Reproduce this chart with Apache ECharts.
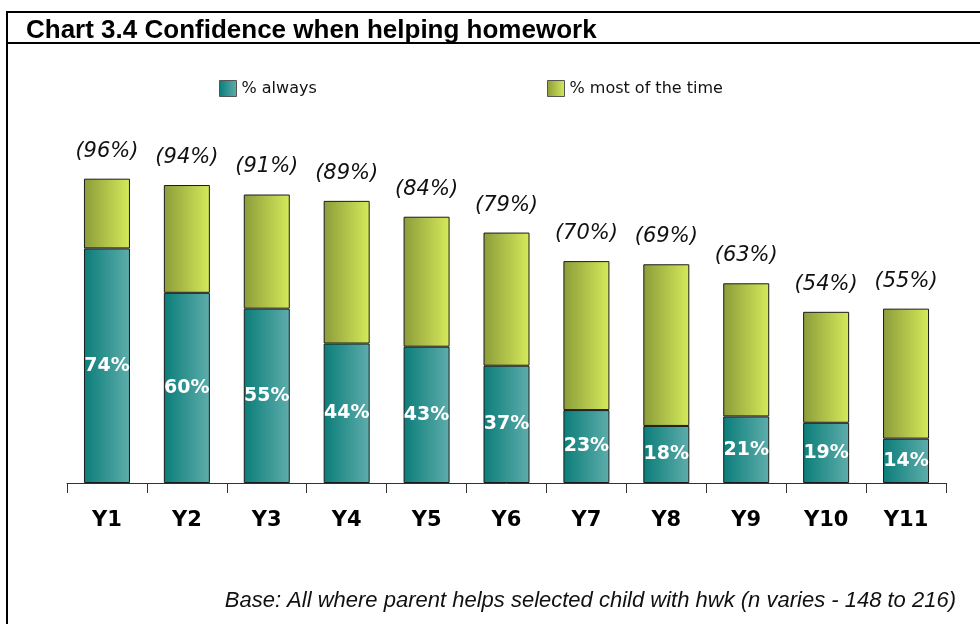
<!DOCTYPE html>
<html>
<head>
<meta charset="utf-8">
<title>Chart 3.4</title>
<script src="https://cdn.jsdelivr.net/npm/echarts@6/dist/echarts.min.js"></script>
<style>
  html, body { margin: 0; padding: 0; background: #fff; }
  #main { width: 980px; height: 624px; }
</style>
</head>
<body>
<div id="main"></div>
<script>
// data
const years = ['Y1', 'Y2', 'Y3', 'Y4', 'Y5', 'Y6', 'Y7', 'Y8', 'Y9', 'Y10', 'Y11'];
const always = [74, 60, 55, 44, 43, 37, 23, 18, 21, 19, 14];
const mostOfTime = [22, 34, 36, 45, 41, 42, 47, 51, 42, 35, 41];
const totals = [96, 94, 91, 89, 84, 79, 70, 69, 63, 54, 55];

const myChart = echarts.init(document.getElementById('main'));

// horizontal gradients like the original bars
const tealGrad = new echarts.graphic.LinearGradient(0, 0, 1, 0, [
  { offset: 0, color: '#0b7d79' },
  { offset: 1, color: '#5eadab' }
]);
const limeGrad = new echarts.graphic.LinearGradient(0, 0, 1, 0, [
  { offset: 0, color: '#8c9c3a' },
  { offset: 1, color: '#d6ea5a' }
]);

const legendText = { fontFamily: 'DejaVu Sans', fontSize: 16, color: '#111' };

const option = {
  backgroundColor: '#fff',
  animation: false,
  title: {
    text: 'Chart 3.4 Confidence when helping homework',
    left: 21,
    top: 13,
    textStyle: {
      fontFamily: 'Liberation Sans',
      fontWeight: 'bold',
      fontSize: 26,
      color: '#000'
    }
  },
  legend: [
    {
      data: ['% always'],
      left: 214,
      top: 75,
      icon: 'rect',
      itemWidth: 17,
      itemHeight: 16,
      itemGap: 5,
      itemStyle: { borderColor: '#555', borderWidth: 1 },
      textStyle: legendText
    },
    {
      data: ['% most of the time'],
      left: 542,
      top: 75,
      icon: 'rect',
      itemWidth: 17,
      itemHeight: 16,
      itemGap: 5,
      itemStyle: { borderColor: '#555', borderWidth: 1 },
      textStyle: legendText
    }
  ],
  grid: {
    left: 67,
    right: 34,
    top: 166,
    bottom: 141
  },
  xAxis: {
    type: 'category',
    data: years,
    axisLine: { show: true, lineStyle: { color: '#333', width: 1 } },
    axisTick: { show: true, length: 10, lineStyle: { color: '#333', width: 1 } },
    axisLabel: {
      margin: 27,
      fontFamily: 'DejaVu Sans',
      fontWeight: 'bold',
      fontSize: 21,
      color: '#000'
    }
  },
  yAxis: {
    type: 'value',
    min: 0,
    max: 100,
    show: false,
    splitLine: { show: false }
  },
  series: [
    {
      name: '% always',
      type: 'bar',
      stack: 'conf',
      barWidth: 46,
      data: always,
      itemStyle: { color: tealGrad, borderColor: '#1a1a1a', borderWidth: 1 },
      label: {
        show: true,
        position: 'inside',
        formatter: '{c}%',
        color: '#fff',
        fontFamily: 'DejaVu Sans',
        fontWeight: 'bold',
        fontSize: 19
      }
    },
    {
      name: '% most of the time',
      type: 'bar',
      stack: 'conf',
      barWidth: 46,
      data: mostOfTime,
      itemStyle: { color: limeGrad, borderColor: '#1a1a1a', borderWidth: 1 },
      label: {
        show: true,
        position: 'top',
        distance: 17,
        formatter: function (p) { return '(' + totals[p.dataIndex] + '%)'; },
        color: '#111',
        fontFamily: 'DejaVu Sans',
        fontStyle: 'italic',
        fontSize: 21
      }
    }
  ],
  graphic: [
    // outer frame and line under the title
    {
      type: 'rect',
      shape: { x: 7, y: 12, width: 990, height: 640 },
      style: { fill: null, stroke: '#000', lineWidth: 2 },
      silent: true
    },
    {
      type: 'line',
      shape: { x1: 7, y1: 43, x2: 980, y2: 43 },
      style: { stroke: '#000', lineWidth: 2 },
      silent: true
    },
    {
      type: 'text',
      right: 24,
      top: 590,
      style: {
        text: 'Base: All where parent helps selected child with hwk (n varies - 148 to 216)',
        fontFamily: 'Liberation Sans',
        fontStyle: 'italic',
        fontSize: 22,
        fill: '#111'
      }
    }
  ]
};

myChart.setOption(option);
</script>
</body>
</html>
